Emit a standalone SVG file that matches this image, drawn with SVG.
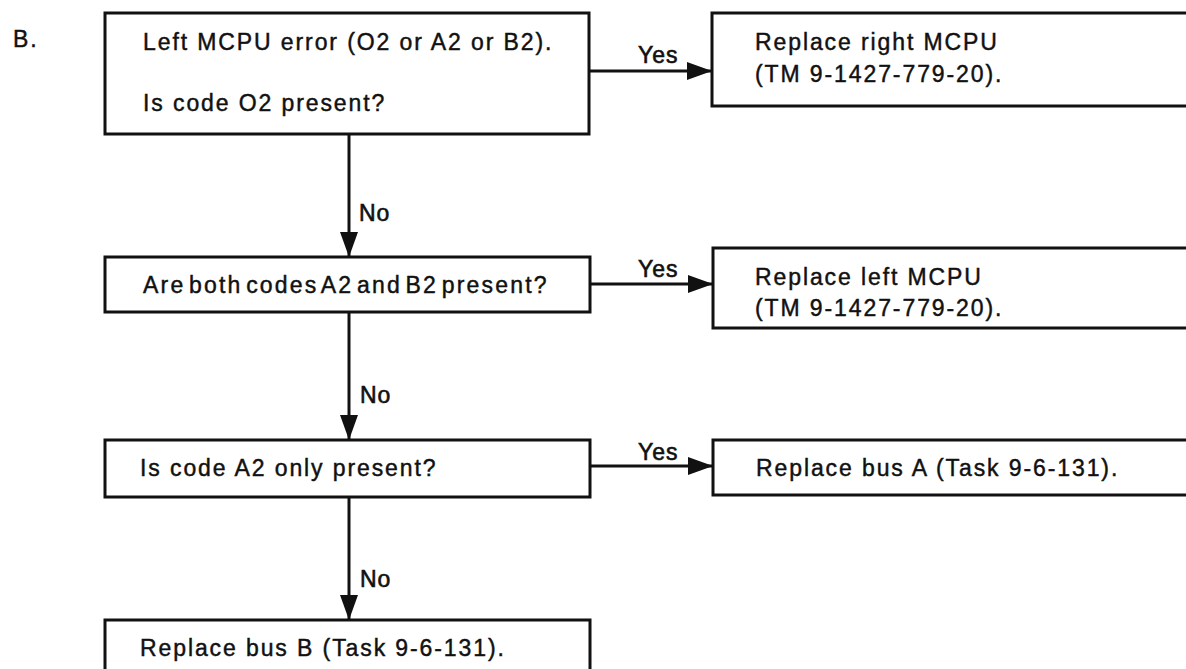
<svg xmlns="http://www.w3.org/2000/svg" width="1186" height="669" viewBox="0 0 1186 669">
<defs>
<style>
.box{fill:#fff;stroke:#111;stroke-width:3}
.t{font-family:"Liberation Sans",Arial,Helvetica,sans-serif;font-size:23px;fill:#111;stroke:#111;stroke-width:0.45;letter-spacing:1.9px}
.t2{font-family:"Liberation Sans",Arial,Helvetica,sans-serif;font-size:23px;fill:#111;stroke:#111;stroke-width:0.45;letter-spacing:2.2px;word-spacing:-5px}
.lbl{font-family:"Liberation Sans",Arial,Helvetica,sans-serif;font-size:23px;fill:#111;stroke:#111;stroke-width:0.6;letter-spacing:1px}
.c{fill:none;stroke:#111;stroke-width:3}
</style>
<marker id="ah" markerUnits="userSpaceOnUse" markerWidth="25" markerHeight="18" refX="24" refY="9" orient="auto">
<path d="M0,0 L25,9 L0,18 Z" fill="#111"/>
</marker>
</defs>
<rect width="1186" height="669" fill="#fff"/>
<text class="t" x="13" y="47">B.</text>
<g id="connectors">
<line class="c" x1="589" y1="71" x2="711" y2="71" marker-end="url(#ah)"/>
<text class="lbl" x="638" y="63">Yes</text>
<line class="c" x1="349" y1="134" x2="349" y2="256" marker-end="url(#ah)"/>
<text class="lbl" x="359" y="221">No</text>
<line class="c" x1="590" y1="284" x2="712" y2="284" marker-end="url(#ah)"/>
<text class="lbl" x="638" y="277">Yes</text>
<line class="c" x1="349" y1="312" x2="349" y2="439" marker-end="url(#ah)"/>
<text class="lbl" x="360" y="403">No</text>
<line class="c" x1="590" y1="466" x2="712" y2="466" marker-end="url(#ah)"/>
<text class="lbl" x="638" y="460">Yes</text>
<line class="c" x1="349" y1="497" x2="349" y2="619" marker-end="url(#ah)"/>
<text class="lbl" x="360" y="587">No</text>
</g>
<g id="n1">
<rect class="box" x="105" y="13" width="484" height="121"/>
<text class="t" x="143" y="50">Left MCPU error (O2 or A2 or B2).</text>
<text class="t" x="143" y="111">Is code O2 present?</text>
</g>
<g id="n2">
<rect class="box" x="712" y="13" width="480" height="93"/>
<text class="t" x="755" y="50">Replace right MCPU</text>
<text class="t" x="755" y="82">(TM 9-1427-779-20).</text>
</g>
<g id="n3">
<rect class="box" x="105" y="257" width="485" height="55"/>
<text class="t2" x="143" y="293">Are both codes A2 and B2 present?</text>
</g>
<g id="n4">
<rect class="box" x="713" y="248" width="480" height="80"/>
<text class="t" x="755" y="285">Replace left MCPU</text>
<text class="t" x="755" y="316">(TM 9-1427-779-20).</text>
</g>
<g id="n5">
<rect class="box" x="105" y="440" width="485" height="57"/>
<text class="t" x="140" y="476">Is code A2 only present?</text>
</g>
<g id="n6">
<rect class="box" x="713" y="440" width="480" height="55"/>
<text class="t" x="756" y="476">Replace bus A (Task 9-6-131).</text>
</g>
<g id="n7">
<rect class="box" x="105" y="620" width="485" height="60"/>
<text class="t" x="140" y="656">Replace bus B (Task 9-6-131).</text>
</g>
</svg>
